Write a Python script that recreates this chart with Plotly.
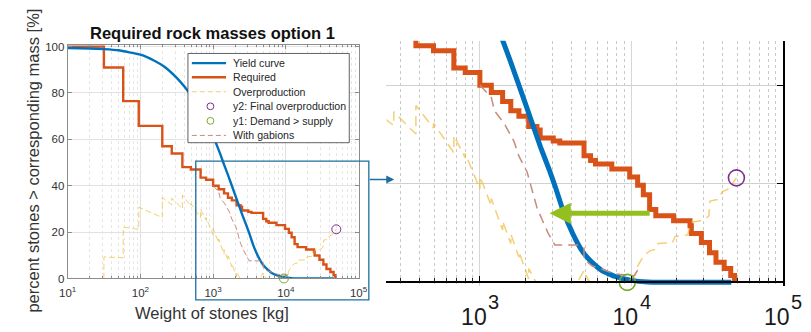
import math
import plotly.graph_objects as go

# ---------------- data ----------------
yield_x = [10, 20, 31.6, 50, 100, 158, 214, 316, 447, 631, 794, 1000, 1259, 1387, 1585,
           1995, 2512, 2897, 3162, 3548, 4102, 4753, 5521, 6397, 7798, 10000, 12794, 15849, 45700]
yield_y = [99.4, 99.2, 98.9, 98.4, 96.5, 93.8, 91.3, 86.5, 81.0, 74.5, 69.0, 61.5, 53.5, 49.8, 45.0,
           36.3, 27.5, 22.5, 19.2, 14.5, 9.9, 6.3, 4.0, 2.4, 1.2, 0.4, 0.05, 0.0, 0.0]

req_x = [10, 31.5, 58, 95, 200, 270, 378, 494, 673, 800, 1000, 1190, 1413, 1600, 1810, 2100,
         2380, 2500, 3050, 3370, 4870, 5380, 5800, 7430, 9750, 11000, 12000, 13200, 14500, 19000,
         24400, 24900, 29000, 32800, 36200, 41000, 45300, 48000]
req_y = [100, 91, 76.5, 65.8, 57, 53.9, 48.0, 47.0, 43.5, 42.6, 40.0, 38.5, 36.7, 34.8, 33.7, 31.6,
         30.9, 29.3, 28.7, 28.3, 25.7, 24.7, 24.0, 23.0, 21.4, 19.7, 17.8, 14.8, 13.5, 12.5,
         11.5, 9.9, 8.1, 6.0, 4.1, 2.8, 1.4, 0]

over_x = [10, 31.5, 31.5, 58, 58, 95, 95, 200, 200, 270, 270, 378, 378, 494, 494, 673, 673,
          800, 800, 1000, 1000, 1190, 1190, 1413, 1413, 1600, 1600, 1810, 1810, 2100, 2100, 2350,
          4400, 4870, 5200, 5500, 9400, 10500, 11000, 12000, 13200, 14500, 15000, 18600, 19500,
          23500, 25000, 30000, 32500, 33000, 37000, 40000, 43000, 45000, 49400]
over_y = [0, 0, 9.3, 8.9, 22.1, 21.2, 30.7, 26.3, 34.9, 31.8, 34.6, 30.1, 35.9, 31.3, 32.3, 26.3, 29.8,
          25.3, 26.2, 18.9, 21.5, 15.5, 17.0, 10.6, 12.4, 7.9, 9.8, 5.1, 6.2, 0.7, 2.8, 0,
          0, 2.4, 0.4, 0, 0, 1.4, 3.3, 5.3, 6.4, 6.7, 7.9, 8.0, 9.3,
          9.6, 12.2, 12.6, 13.5, 16.5, 16.8, 18.4, 18.8, 19.5, 21.2]

gab_x = [1000, 1190, 1250, 1450, 1680, 1810, 2050, 2210, 2380, 2620, 2830, 3120, 4420, 4870, 4870,
         5520, 6000, 6760, 7800, 9800, 10500, 11000]
gab_y = [40.0, 37.5, 34.8, 32.2, 28.6, 25.6, 22.4, 18.8, 15.2, 12.2, 9.9, 7.6, 7.6, 7.0, 4.7,
         3.3, 3.0, 2.4, 1.7, 1.4, 1.4, 2.5]

final_over_x = [49400]
final_over_y = [21.2]
demand_x = [9400]
demand_y = [0]

arrow_from_x, arrow_to_x, arrow_y = 13520, 2884, 14

left_ticks = [10, 100, 1000, 10000, 100000]
left_ticktext = ["10<sup>1</sup>", "10<sup>2</sup>", "10<sup>3</sup>", "10<sup>4</sup>", "10<sup>5</sup>"]
right_ticks = [1000, 10000, 100000]
right_base = ["10", "10", "10"]
right_exponents = ["3", "4", "5"]
y_ticks = [0, 20, 40, 60, 80, 100]

legend_labels = ["Yield curve", "Required", "Overproduction", "y2: Final overproduction",
                 "y1: Demand > supply", "With gabions"]

# ---------------- styling ----------------
BLUE = "#0072BD"
RED = "#D95319"
YEL = "rgba(237,177,32,0.62)"
GAB = "#c98b7d"
PUR = "#7E2F8E"
GRN = "#77AC30"
FONT = "Liberation Sans, Arial, sans-serif"
W, H = 811, 332


def px(x):
    return x / W


def py(y):
    return 1 - y / H


fig = go.Figure()

for (xa, ya, lw, dl, dash, msize, mlw) in [("x", "y", 2.4, 1.0, "6px,3px", 9, 1.0),
                                             ("x2", "y2", 5.0, 1.5, "10px,6px", 16, 1.6)]:
    fig.add_trace(go.Scatter(x=req_x, y=req_y, mode="lines", line=dict(color=RED, width=lw, shape="hv"),
                             xaxis=xa, yaxis=ya, showlegend=False))
    fig.add_trace(go.Scatter(x=yield_x, y=yield_y, mode="lines",
                             line=dict(color=BLUE, width=lw, shape="spline", smoothing=0.4),
                             xaxis=xa, yaxis=ya, showlegend=False))
    fig.add_trace(go.Scatter(x=over_x, y=over_y, mode="lines", line=dict(color=YEL, width=dl, dash=dash),
                             xaxis=xa, yaxis=ya, showlegend=False))
    fig.add_trace(go.Scatter(x=gab_x, y=gab_y, mode="lines", line=dict(color=GAB, width=dl, dash=dash),
                             xaxis=xa, yaxis=ya, showlegend=False))
    fig.add_trace(go.Scatter(x=final_over_x, y=final_over_y, mode="markers", cliponaxis=False,
                             marker=dict(symbol="circle-open", size=msize, color=PUR, line=dict(width=mlw)),
                             xaxis=xa, yaxis=ya, showlegend=False))
    fig.add_trace(go.Scatter(x=demand_x, y=demand_y, mode="markers", cliponaxis=False,
                             marker=dict(symbol="circle-open", size=msize, color=GRN, line=dict(width=mlw)),
                             xaxis=xa, yaxis=ya, showlegend=False))

shapes = []
annotations = []

# zoom box + connector arrow
ZB = "#1f6e9e"
shapes.append(dict(type="rect", xref="paper", yref="paper", x0=px(191), x1=px(368), y0=py(305), y1=py(162),
                   line=dict(color=ZB, width=1.3), layer="above"))
annotations.append(dict(xref="paper", yref="paper", x=px(394), y=py(181), ax=-26, ay=0, text="",
                        showarrow=True, arrowhead=2, arrowsize=1, arrowwidth=1.6, arrowcolor=ZB))

# manual legend
shapes.append(dict(type="rect", xref="paper", yref="paper", x0=px(183), x1=px(348), y0=py(143), y1=py(51),
                   line=dict(color="#3a3a3a", width=0.8), fillcolor="white", layer="above"))
rows = [61, 75.5, 90.5, 105.5, 120.5, 135.5]
styles = [("line", BLUE, 2.4, None), ("line", RED, 2.4, None), ("line", YEL, 1.0, "5px,3px"),
          ("circle", PUR, 1.0, None), ("circle", GRN, 1.0, None), ("line", GAB, 1.0, "5px,3px")]
for r, (kind, col, w, d), lab in zip(rows, styles, legend_labels):
    if kind == "line":
        ln = dict(color=col, width=w)
        if d:
            ln["dash"] = d
        shapes.append(dict(type="line", xref="paper", yref="paper", x0=px(187), x1=px(222), y0=py(r), y1=py(r),
                           line=ln, layer="above"))
    else:
        shapes.append(dict(type="circle", xref="paper", yref="paper", x0=px(202.5), x1=px(209.5),
                           y0=py(r + 3.5), y1=py(r - 3.5), line=dict(color=col, width=w), layer="above"))
    annotations.append(dict(xref="paper", yref="paper", x=px(227), y=py(r), text=lab, showarrow=False,
                            xanchor="left", yanchor="middle", font=dict(size=10.6, color="#262626", family=FONT)))

# titles
annotations.append(dict(xref="paper", yref="paper", x=px(208), y=py(30), text="<b>Required rock masses option 1</b>",
                        showarrow=False, xanchor="center", yanchor="middle",
                        font=dict(size=16.5, color="#111111", family=FONT)))
annotations.append(dict(xref="paper", yref="paper", x=px(208), y=py(319), text="Weight of stones [kg]",
                        showarrow=False, xanchor="center", yanchor="middle",
                        font=dict(size=16.5, color="#333333", family=FONT)))
annotations.append(dict(xref="paper", yref="paper", x=px(25), y=py(161), text="percent stones > corresponding mass [%]",
                        showarrow=False, xanchor="center", yanchor="middle", textangle=-90,
                        font=dict(size=16.5, color="#333333", family=FONT)))

# large exponents of the zoomed-view tick labels
for tv, ex in zip(right_ticks, right_exponents):
    annotations.append(dict(xref="x2", yref="paper", x=math.log10(tv), y=py(307), xshift=14, text=ex,
                            showarrow=False, xanchor="center", yanchor="middle",
                            font=dict(size=20, color="#1a1a1a", family=FONT)))

# green arrow in zoomed view
annotations.append(dict(xref="x2", yref="y2", axref="x2", ayref="y2",
                        x=math.log10(arrow_to_x), y=arrow_y, ax=math.log10(arrow_from_x), ay=arrow_y,
                        text="", showarrow=True, arrowhead=2, arrowsize=0.85, arrowwidth=5,
                        arrowcolor="#93c01f"))

AX = "#8c8c8c"
fig.update_layout(
    width=W, height=H, margin=dict(l=0, r=0, t=0, b=0),
    paper_bgcolor="white", plot_bgcolor="white", showlegend=False,
    font=dict(family=FONT, color="#333333"),
    xaxis=dict(type="log", range=[1, 5], domain=[px(60), px(357.5)], anchor="y",
               showline=True, linecolor=AX, linewidth=1, mirror="ticks", ticks="inside", ticklen=4,
               tickcolor=AX, tickmode="array", tickvals=left_ticks, ticktext=left_ticktext,
               tickfont=dict(size=11.5, color="#333333"), ticklabelstandoff=4,
               showgrid=True, gridcolor="#e2e2e2", zeroline=False,
               minor=dict(dtick="D1", ticks="inside", ticklen=2, tickcolor=AX, showgrid=True,
                          gridcolor="#e6e6e6", griddash="dot")),
    yaxis=dict(range=[0, 100.8], domain=[py(283), py(42)], anchor="x",
               showline=True, linecolor=AX, linewidth=1, mirror="ticks", ticks="inside", ticklen=4,
               tickcolor=AX, tickmode="array", tickvals=y_ticks, tickfont=dict(size=11.5, color="#333333"),
               showgrid=True, gridcolor="#e2e2e2", zeroline=False),
    xaxis2=dict(type="log", range=[2.383, 5.0008], domain=[px(386), px(791.5)], anchor="free",
                position=py(287), showline=True, linecolor="black", linewidth=1.5, ticks="inside",
                ticklen=6, tickcolor="black", tickmode="array", tickvals=right_ticks, ticktext=right_base,
                tickfont=dict(size=23, color="#1a1a1a"), ticklabelstandoff=14, ticklabelshift=-6,
                showgrid=True, gridcolor="#d6d6d6", zeroline=False,
                minor=dict(dtick="D1", ticks="inside", ticklen=4, tickcolor="#222222", showgrid=True,
                           gridcolor="#c9c9c9", griddash="dot")),
    yaxis2=dict(range=[-0.787, 49], domain=[py(291), py(38)], anchor="x2", side="right",
                showline=True, linecolor="black", linewidth=1.5, ticks="inside", ticklen=6,
                tickcolor="black", tickmode="array", tickvals=[20, 40], showticklabels=False,
                showgrid=True, gridcolor="#d0d0d0", zeroline=False),
    shapes=shapes, annotations=annotations,
)

fig.write_html("out.html")
